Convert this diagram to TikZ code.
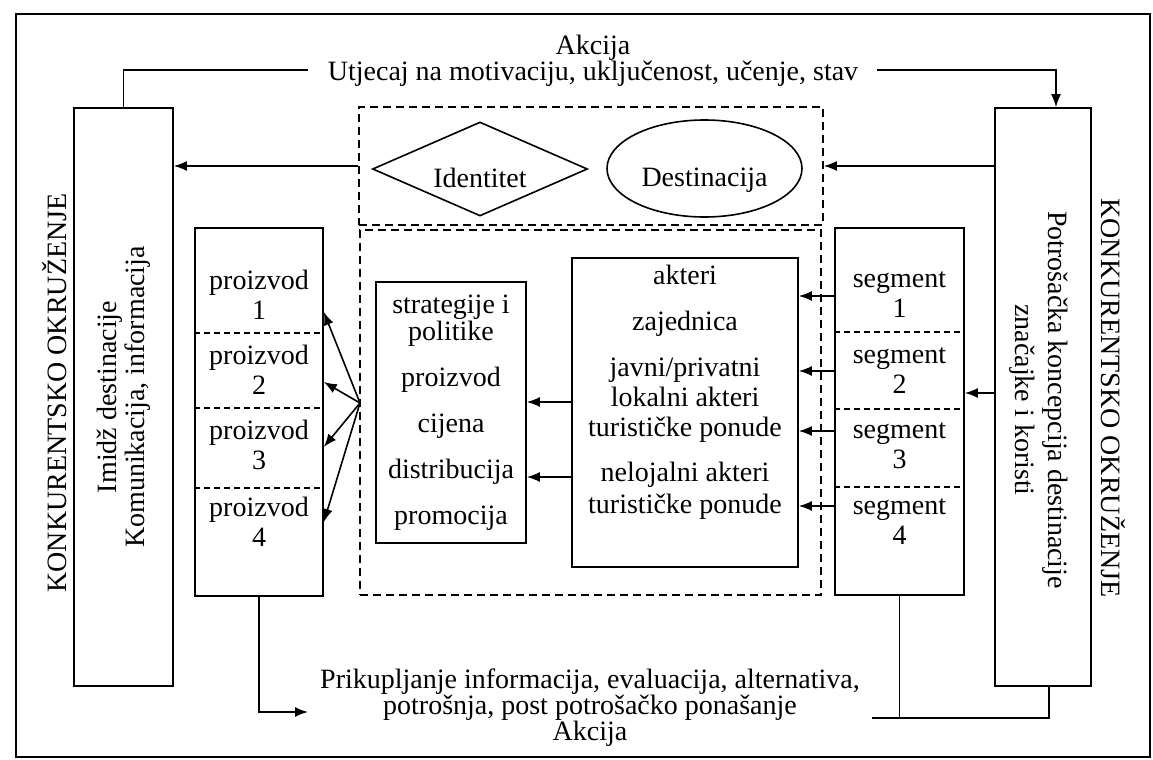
\documentclass[tikz,border=0pt]{standalone}
\usepackage{fontspec}
\setmainfont{Liberation Serif}
\usetikzlibrary{shapes.geometric, arrows.meta, positioning}

\begin{document}
\begin{tikzpicture}[x=0.5pt, y=-0.5pt,
        every node/.style={font=\fontsize{14}{15}\selectfont},
        box/.style={draw, line width=0.8pt, inner sep=0pt},
        zone/.style={draw, line width=0.8pt, inner sep=0pt, dash pattern=on 4pt off 2.5pt},
        split/.style={line width=0.6pt, dash pattern=on 3pt off 2pt},
        ln/.style={line width=0.8pt},
        arr/.style={line width=0.8pt, -{Latex[length=6.5pt, width=5pt]}},
        low/.style={text height=18pt, text depth=0pt}]
        \useasboundingbox (0,0) rectangle (1153,760);
        % Frame
        \draw[line width=0.8pt] (16,14) rectangle (1150,757);
        % Top text
        \node[inner sep=0pt] (akcija) at (593,48) {Akcija};
        \node[inner sep=0pt] (utjecaj) at (593,74) {Utjecaj na motivaciju, uključenost, učenje, stav};
        \coordinate (topL) at (308,70);
        \coordinate (topR) at (877,70);
        % Side boxes
        \node[box, minimum width=49.5pt, minimum height=289pt] (imidz) at (123.5,397) {};
        \node[box, minimum width=48pt, minimum height=289pt] (potr) at (1043,397) {};
        \node[rotate=90, align=center, font=\fontsize{14}{14}\selectfont] (imidzTxt) at (124,397) {Imidž destinacije\\Komunikacija, informacija};
        \node[rotate=-90, align=center, font=\fontsize{14}{16.5}\selectfont] (potrTxt) at (1039,400) {Potrošačka koncepcija destinacije\\značajke i koristi};
        \node[rotate=90] (okrL) at (55,393) {KONKURENTSKO OKRUŽENJE};
        \node[rotate=-90] (okrR) at (1113,398) {KONKURENTSKO OKRUŽENJE};
        % Dashed zones
        \node[zone, minimum width=232pt, minimum height=59pt] (gore) at (591,166) {};
        \node[zone, minimum width=230.5pt, minimum height=182.5pt] (dolje) at (590.5,412.5) {};
        \node[draw, diamond, aspect=2.29, minimum width=107.5pt, minimum height=47pt, inner sep=0pt, line width=0.8pt, low] (ident) at (480,169) {Identitet};
        \node[draw, ellipse, minimum width=97.5pt, minimum height=48.5pt, inner sep=0pt, line width=0.8pt, low] (dest) at (704.5,168.5) {Destinacija};
        % Products
        \node[box, minimum width=64pt, minimum height=184pt] (proizvod) at (259,412) {};
        \foreach \y in {333,408,488}
            \draw[split] (proizvod.west |- 0,\y) -- (proizvod.east |- 0,\y);
        \foreach \i/\y in {1/295,2/370,3/445,4/522}
            \node[align=center] (p\i) at (259,\y) {proizvod\\\i};
        % Segments
        \node[box, minimum width=64.5pt, minimum height=183.5pt] (segment) at (899.5,411.5) {};
        \foreach \y in {332,409,487}
            \draw[split] (segment.west |- 0,\y) -- (segment.east |- 0,\y);
        \foreach \i/\y in {1/295,2/371,3/446,4/522}
            \node[align=center] (s\i) at (899.5,\y) {segment\\\i};
        % Inner boxes
        \node[box, minimum width=75pt, minimum height=130.5pt, align=center] (strat) at (451,412.5)
            {strategije i\\[-1.5pt]politike\\[8pt]proizvod\\[8pt]cijena\\[8pt]distribucija\\[8pt]promocija};
        \node[box, minimum width=113pt, minimum height=154.5pt] (akteri) at (685,412.5) {};
        \node[align=center] (akteriTxt) at (685,392)
            {akteri\\[8pt]zajednica\\[8pt]javni/privatni\\lokalni akteri\\turističke ponude\\[7.5pt]nelojalni akteri\\[1pt]turističke ponude};
        % Connectors
        \draw[ln] (topL) -| (imidz.north);
        \draw[arr] (topR) -| ([xshift=6.5pt]potr.north);
        \draw[arr] (gore.west) -- (gore.west -| imidz.east);
        \draw[arr] (potr.west |- gore.east) -- (gore.east);
        \coordinate (fan) at (360,403);
        \foreach \y in {312,382,447,522}
            \draw[arr] (fan) -- (proizvod.east |- 0,\y);
        \foreach \y in {402,477}
            \draw[arr] (akteri.west |- 0,\y) -- (strat.east |- 0,\y);
        \foreach \y in {296,371,431,506}
            \draw[arr] (segment.west |- 0,\y) -- (akteri.east |- 0,\y);
        \draw[arr] (potr.west |- 0,393) -- (segment.east |- 0,393);
        % Bottom
        \node[align=center, font=\fontsize{14}{13}\selectfont] (prikup) at (590,708)
            {Prikupljanje informacija, evaluacija, alternativa,\\potrošnja, post potrošačko ponašanje\\Akcija};
        \coordinate (botL) at (308,712);
        \coordinate (botR) at (872,718);
        \draw[arr] (proizvod.south) |- (botL);
        \draw[ln] (segment.south) -- (segment.south |- botR);
        \draw[ln] (botR) -| ([xshift=3pt]potr.south);
    \end{tikzpicture}
\end{document}
